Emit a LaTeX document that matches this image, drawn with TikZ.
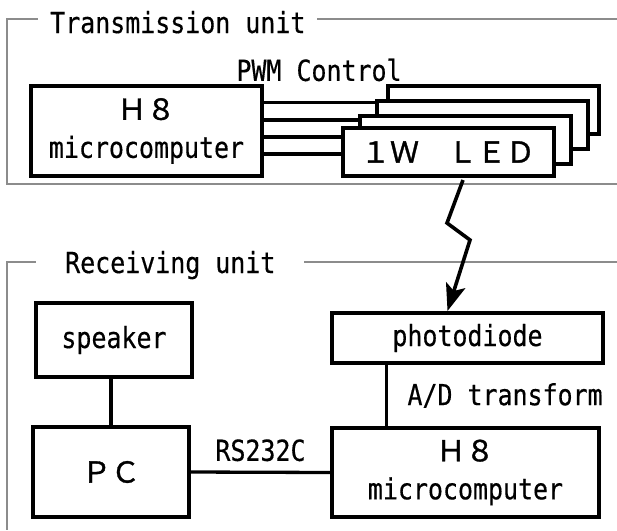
\documentclass[tikz,border=0pt]{standalone}
\usepackage{fontspec}
\usetikzlibrary{arrows.meta,calc,positioning}
\newfontfamily\gothic[FakeStretch=0.86, FakeBold=0.4]{DejaVu Sans Mono}
\newfontfamily\zenkaku[FakeBold=1.2]{Noto Sans CJK JP}

\begin{document}
\begin{tikzpicture}[x=1pt, y=-1pt,
    every node/.style={font=\fontsize{29}{38}\selectfont\gothic},
    unitframe/.style={draw=gray!90, line width=1.4pt},
    blk/.style={draw, fill=white, line width=4pt, inner sep=0pt, align=center},
    wire/.style={line width=3.3pt},
    zap/.style={line width=3.6pt, -{Stealth[length=27pt, width=20pt, inset=6pt]}}]
  \useasboundingbox[fill=white] (0,0) rectangle (617,530);

  % Frames
  \draw[unitframe] (617,19) -- (7,19) -- (7,184) -- (617,184);
  \draw[unitframe] (617,262) -- (7,262) -- (7,530);
  \node[fill=white, inner xsep=12pt, anchor=base west] (txunit) at (38,33) {Transmission unit};
  \node[fill=white, inner xsep=29pt, anchor=base west] (rxunit) at (36,273) {Receiving unit};

  % Transmission unit
  \node[blk, minimum width=231pt, minimum height=90pt] (txmcu) at (146.5,131) {{\zenkaku Ｈ８}\\microcomputer};
  \node (pwm) at (319,70) {PWM Control};
  \foreach \i/\cx/\cy/\dy in {4/493.5/109.5/7, 3/482.5/124.5/4.5, 2/465.5/140/3, 1/448/152/-2} {
    \node[blk, minimum width=211pt, minimum height=48pt] (led\i) at (\cx,\cy) {};
    \coordinate (pin\i) at ([yshift=\dy pt]led\i.west);
    \draw[wire] (pin\i -| txmcu.east) -- (pin\i);
  }
  \node (ledtext) at (led1) {\zenkaku １Ｗ　ＬＥＤ};

  % Receiving unit
  \node[blk, minimum width=156pt, minimum height=74pt] (spk) at (114,340) {speaker};
  \node[blk, minimum width=156pt, minimum height=90pt] (pc) at (111,472) {\zenkaku ＰＣ};
  \node[blk, minimum width=271pt, minimum height=50pt] (pd) at (467.5,338) {photodiode};
  \node[blk, minimum width=267pt, minimum height=89pt] (rxmcu) at (465.5,472.5) {{\zenkaku Ｈ８}\\microcomputer};

  \draw[wire] (pc.north) -- (pc.north |- spk.south);
  \coordinate (adtap) at ([xshift=-81pt]pd.south);
  \draw[wire] (adtap) -- (adtap |- rxmcu.north) node[midway, right=16pt] (adlabel) {A/D transform};
  \draw[wire] (pc.east) -- (rxmcu.west) node[midway, above=6pt] (rslabel) {RS232C};

  % Optical link
  \coordinate (zzstart) at ([xshift=15pt, yshift=-2pt]led1.south);
  \coordinate (zzend) at ([xshift=-20pt]pd.north);
  \draw[zap] (zzstart) -- ++(-16,43) -- ++(23,17) -- (zzend);
\end{tikzpicture}
\end{document}
